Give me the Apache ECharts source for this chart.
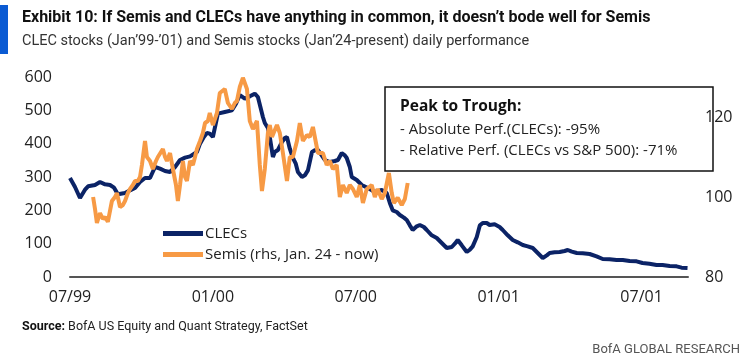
<!DOCTYPE html>
<html><head><meta charset="utf-8">
<script src="https://cdn.jsdelivr.net/npm/echarts@6/dist/echarts.min.js"></script>
<style>html,body{margin:0;padding:0;background:#fff}#c{width:746px;height:363px}</style>
</head><body><div id="c"></div>
<script>
// x positions are months since July 1999
const xTickLabels = ['07/99', '01/00', '07/00', '01/01', '07/01'];
const clecMonths = [0,0.21,0.42,0.63,0.76,1.05,1.26,1.47,1.68,1.85,2.01,2.31,2.52,2.73,2.94,3.15,3.36,3.57,3.78,3.99,4.20,4.41,4.62,4.83,5.04,5.33,5.46,5.62,5.75,5.87,6.00,6.21,6.50,6.80,6.97,7.13,7.34,7.55,7.76,7.89,7.97,8.10,8.18,8.31,8.39,8.52,8.60,8.73,8.90,9.02,9.11,9.23,9.36,9.48,9.57,9.74,9.86,9.99,10.16,10.28,10.41,10.57,10.70,10.91,11.12,11.25,11.41,11.54,11.62,11.75,11.83,12.04,12.25,12.51,12.80,13.09,13.30,13.43,13.55,13.72,13.85,14.02,14.14,14.27,14.39,14.56,14.69,14.86,14.98,15.19,15.40,15.61,15.82,16.03,16.16,16.28,16.45,16.66,16.79,16.91,17.08,17.21,17.33,17.50,17.62,17.83,18.04,18.17,18.38,18.59,18.80,19.01,19.22,19.43,19.64,19.85,20.02,20.14,20.35,20.56,20.77,20.90,21.07,21.28,21.53,21.82,22.11,22.37,22.66,22.95,23.21,23.50,23.79,24.04,24.33,24.63,24.88,25.18,25.47,25.68,25.93];
const clecValues = [297,270,237,262,272,276,285,278,276,268,248,252,260,267,285,297,297,330,325,318,315,330,351,358,362,375,400,420,432,430,420,490,495,500,520,546,535,542,550,540,545,480,462,447,420,360,375,381,405,417,420,385,357,340,315,300,305,320,375,380,381,365,351,345,348,351,372,365,357,330,300,291,276,267,255,261,252,222,200,195,186,178,171,155,141,152,156,150,141,125,117,102,87,90,100,111,95,75,82,92,120,155,162,162,156,158,150,141,125,111,104,96,92,87,72,57,65,72,74,75,78,81,76,72,71,69,62,54,53,51,51,48,47,42,40,36,36,33,32,28,27];
const semisMonths = [0.97,1.05,1.13,1.26,1.38,1.47,1.59,1.76,1.89,1.97,2.10,2.22,2.31,2.43,2.52,2.64,2.73,2.85,2.94,3.02,3.15,3.23,3.36,3.48,3.61,3.69,3.90,3.99,4.07,4.20,4.32,4.45,4.53,4.62,4.74,4.83,4.91,5.04,5.16,5.25,5.33,5.46,5.58,5.67,5.79,5.87,6.00,6.17,6.29,6.50,6.63,6.80,6.92,7.01,7.13,7.26,7.43,7.55,7.68,7.85,7.97,8.06,8.18,8.31,8.39,8.48,8.69,8.81,8.94,9.11,9.23,9.36,9.53,9.65,9.78,9.95,10.07,10.20,10.28,10.41,10.62,10.78,10.91,11.04,11.20,11.33,11.46,11.62,11.75,11.88,12.04,12.17,12.30,12.46,12.67,12.80,12.92,13.09,13.22,13.39,13.51,13.60,13.76,13.93,14.06,14.18];
const semisValues = [100,97,93.5,96,94.5,95,93.8,99,100,101,97.5,98,99,101,102,103,104,104,105,108,114,110,109,107,109,110,112,110,109,111,107,103,99,103,109,105,104,109,108,110,112,114,116,118.5,119,121,118,121,126,127,123.5,122,123.5,124,127.5,129.8,127,119,117,119,108,101.5,107,116,118,115,118,116,111,104,110,110,114,118.5,114,115.5,115,117.5,117,111,111,108,109,107,108,100,103,101,103,102,100,103,98.5,102,103,100,102,99.5,101,106,101,98.5,99.8,98,99.5,103.5];
const seriesNames = ['CLECs', 'Semis (rhs, Jan. 24 - now)'];

const pair = (xs, ys) => xs.map((x, i) => [x, ys[i]]);
const chart = echarts.init(document.getElementById('c'), null, {renderer: 'canvas'});
const FONT = "'Open Sans', sans-serif";
const NARROW = "'Roboto', sans-serif";
chart.setOption({
  animation: false,
  backgroundColor: '#fff',
  grid: {left: 70, right: 58, top: 77, bottom: 86},
  xAxis: {
    type: 'value', min: 0, max: 25.95, interval: 6,
    axisLine: {show: true, lineStyle: {color: '#555', width: 2}},
    axisTick: {show: false}, splitLine: {show: false},
    axisLabel: {
      color: '#222', fontFamily: FONT, fontSize: 16, margin: 12, showMaxLabel: false,
      formatter: v => { const i = Math.round(v / 6); return (Math.abs(v - i * 6) < 1e-6 && xTickLabels[i]) ? xTickLabels[i] : ''; }
    }
  },
  yAxis: [
    {type: 'value', min: 0, max: 600, interval: 100, axisLine: {show: false}, axisTick: {show: false}, splitLine: {show: false},
     axisLabel: {color: '#222', fontFamily: FONT, fontSize: 16, margin: 18}},
    {type: 'value', min: 80, max: 130, interval: 20, position: 'right', axisLine: {show: false}, axisTick: {show: false}, splitLine: {show: false},
     axisLabel: {color: '#222', fontFamily: FONT, fontSize: 16, margin: 17, showMaxLabel: false}}
  ],
  legend: {
    orient: 'vertical', left: 158, top: 221, itemGap: 6, itemWidth: 40, itemHeight: 5, icon: 'rect',
    textStyle: {color: '#222', fontFamily: FONT, fontSize: 15, padding: [0, 0, 0, -3]},
    data: seriesNames
  },
  series: [
    {name: seriesNames[0], type: 'line', yAxisIndex: 0, data: pair(clecMonths, clecValues), showSymbol: false, symbol: 'none',
     lineStyle: {color: '#0b2366', width: 4}, itemStyle: {color: '#0b2366'}},
    {name: seriesNames[1], type: 'line', yAxisIndex: 1, data: pair(semisMonths, semisValues), showSymbol: false, symbol: 'none',
     lineStyle: {color: '#f79a45', width: 4}, itemStyle: {color: '#f79a45'}}
  ],
  graphic: [
    {type: 'rect', left: 0, top: 5, shape: {width: 8, height: 49}, style: {fill: '#0b5bd3'}},
    {type: 'text', left: 22, top: 10, style: {text: 'Exhibit 10: If Semis and CLECs have anything in common, it doesn’t bode well for Semis', fill: '#111', font: "bold 16px " + NARROW}},
    {type: 'text', left: 22, top: 34, style: {text: 'CLEC stocks (Jan’99-’01) and Semis stocks (Jan’24-present) daily performance', fill: '#333', font: "14.5px " + NARROW}},
    {type: 'rect', shape: {x: 385, y: 87, width: 328, height: 84}, style: {fill: 'none', stroke: '#111', lineWidth: 1.5}, z: 1},
    {type: 'text', x: 400, y: 107, style: {text: 'Peak to Trough:', fill: '#111', font: "bold 15.5px " + FONT, textVerticalAlign: 'middle'}, z: 2},
    {type: 'text', x: 400, y: 130, style: {text: '- Absolute Perf.(CLECs): -95%', fill: '#222', font: "15px " + FONT, textVerticalAlign: 'middle'}, z: 2},
    {type: 'text', x: 400, y: 151, style: {text: '- Relative Perf. (CLECs vs S&P 500): -71%', fill: '#222', font: "15px " + FONT, textVerticalAlign: 'middle'}, z: 2},
    {type: 'text', left: 22, top: 320, style: {text: '{b|Source:} BofA US Equity and Quant Strategy, FactSet', rich: {b: {fontWeight: 'bold', fontFamily: NARROW, fontSize: 12.5, fill: '#111'}}, font: "12.5px " + NARROW, fill: '#222'}},
    {type: 'text', right: 6, top: 343, style: {text: 'BofA GLOBAL RESEARCH', fill: '#555', font: "13px " + NARROW}}
  ]
});
</script></body></html>
